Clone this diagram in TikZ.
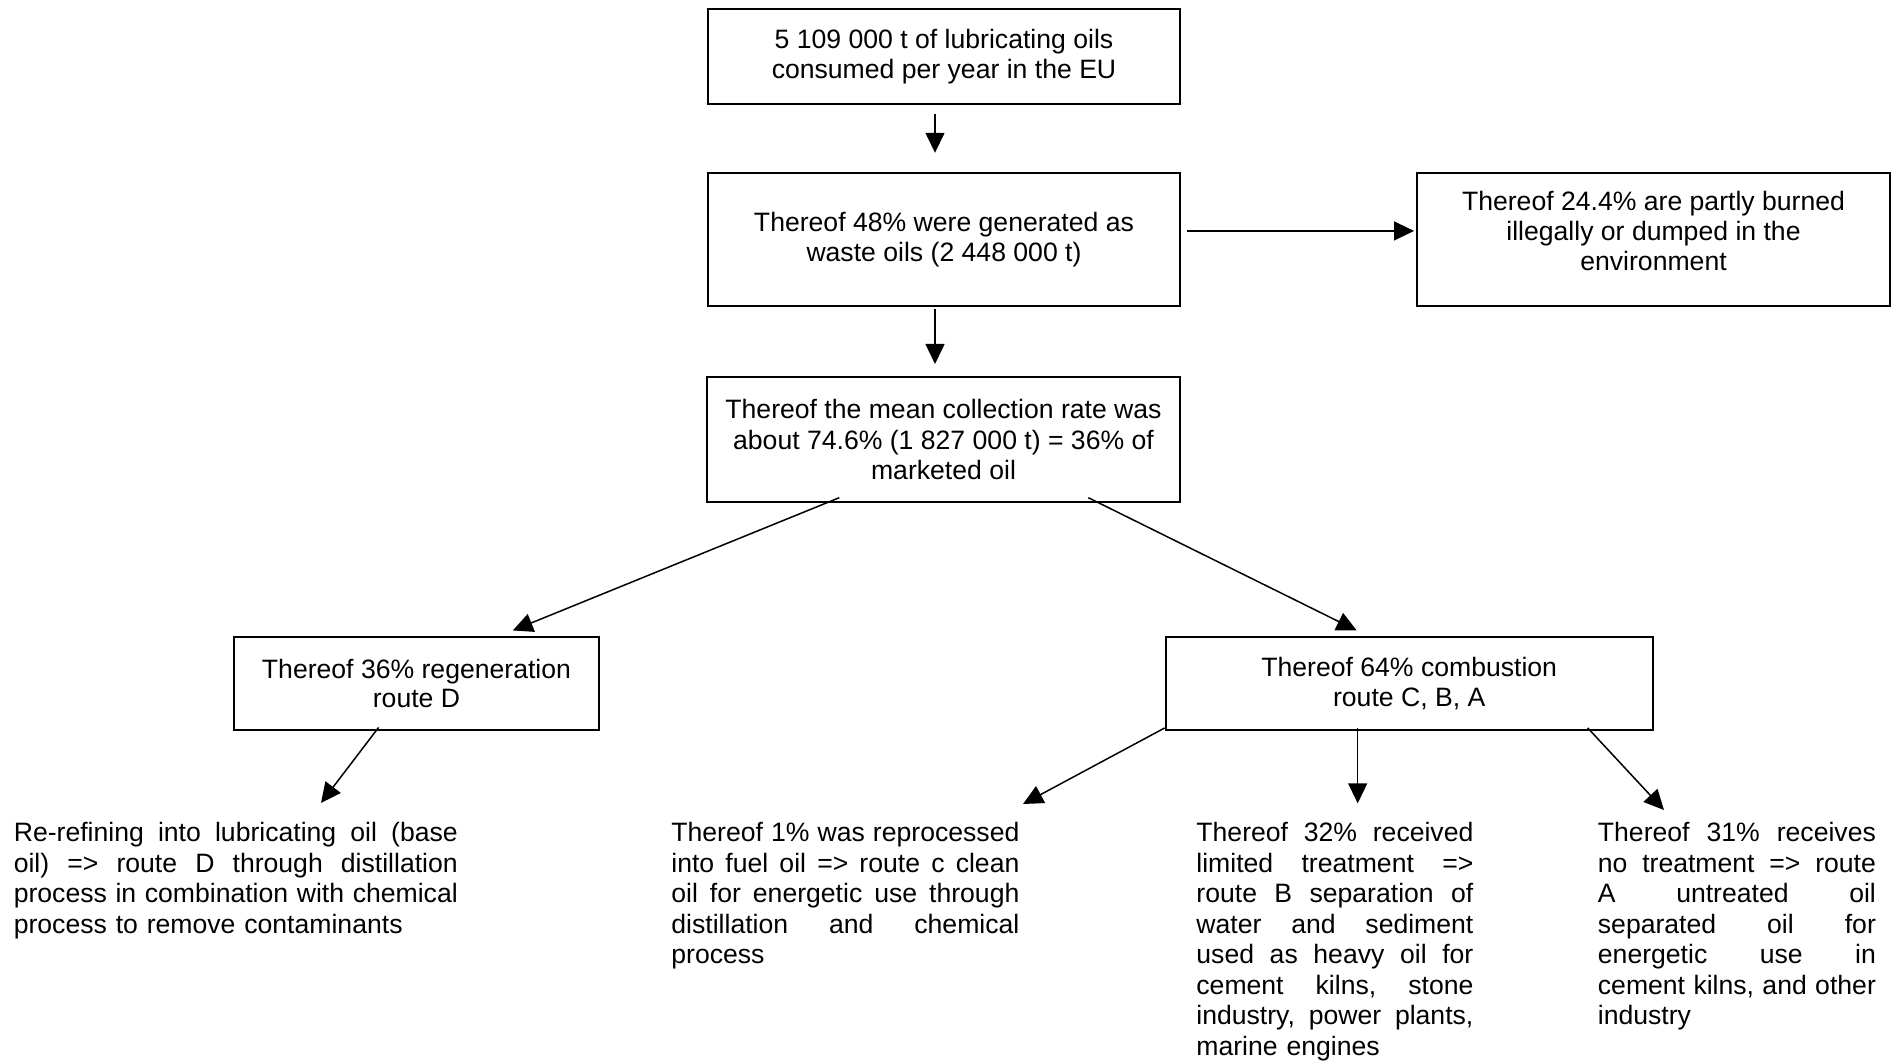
\documentclass[tikz,border=0pt]{standalone}
\usepackage{fontspec}
\setmainfont{Liberation Sans}
\usetikzlibrary{arrows.meta}
\frenchspacing
\setlength\parindent{0pt}
\newcommand\fs{\fontsize{13.3pt}{14.9pt}\selectfont}
\newcommand\fp{\fontsize{13.3pt}{15.25pt}\selectfont}
\newcommand\jl[1]{\noindent\hbox to\hsize{\spaceskip=0.278em plus 1fil minus 0.09em\relax #1}\par}
\newcommand\jlast[1]{\noindent\hbox{#1}\par}
\begin{document}
\begin{tikzpicture}[x=0.5pt,y=-0.5pt,
  box/.style={draw, line width=1pt, inner sep=0pt, align=center, font=\fs},
  para/.style={anchor=base west, inner sep=0pt, font=\fp},
  conn/.style={line width=0.75pt, -{Triangle[length=10pt,width=9.5pt]}}]
\useasboundingbox (0,0) rectangle (1894,1063);
\fill[white] (0,0) rectangle (1894,1063);

\node[box, minimum width=236pt, minimum height=47.5pt] (b1) at (944,56.5)
  {5 109 000 t of lubricating oils\\consumed per year in the EU};
\node[box, minimum width=236pt, minimum height=66.25pt] (b2) at (944,239.75)
  {Thereof 48\% were generated as\\waste oils (2 448 000 t)};
\node[box, minimum width=236.5pt, minimum height=66.25pt] (b3) at (1653.5,239.75)
  {Thereof 24.4\% are partly burned\\illegally or dumped in the\\environment\\[-6pt]\mbox{}};
\node[box, minimum width=236.5pt, minimum height=62.8pt, font=\fp] (b4) at (943.5,439.5)
  {Thereof the mean collection rate was\\about 74.6\% (1 827 000 t) = 36\% of\\marketed oil};
\node[box, minimum width=182.5pt, minimum height=46.75pt] (b5) at (416.5,683.5)
  {Thereof 36\% regeneration\\route D};
\node[box, minimum width=243.5pt, minimum height=46.75pt] (b6) at (1409.2,683.5)
  {Thereof 64\% combustion\\route C, B, A};

\node[para, text width=222pt] (t1) at (13.4,841.7) {%
  \jl{Re-refining into lubricating oil (base}%
  \jl{oil) => route D through distillation}%
  \jl{process in combination with chemical}%
  \jlast{process to remove contaminants}};
\node[para, text width=174pt] (t2) at (671,841.7) {%
  \jl{Thereof 1\% was reprocessed}%
  \jl{into fuel oil => route c clean}%
  \jl{oil for energetic use through}%
  \jl{distillation and chemical}%
  \jlast{process}};
\node[para, text width=138.5pt] (t3) at (1196,841.7) {%
  \jl{Thereof 32\% received}%
  \jl{limited treatment =>}%
  \jl{route B separation of}%
  \jl{water and sediment}%
  \jl{used as heavy oil for}%
  \jl{cement kilns, stone}%
  \jl{industry, power plants,}%
  \jlast{marine engines}};
\node[para, text width=139pt] (t4) at (1597.5,841.7) {%
  \jl{Thereof 31\% receives}%
  \jl{no treatment => route}%
  \jl{A untreated oil}%
  \jl{separated oil for}%
  \jl{energetic use in}%
  \jl{cement kilns, and other}%
  \jlast{industry}};

\coordinate (c1) at (321,803);
\coordinate (c2) at (1023,804);
\coordinate (c3) at (1357.7,803.3);
\coordinate (c4) at (1664,810);

\draw[conn] ([xshift=-4.5pt,yshift=-4.35pt]b1.south) -- ([xshift=-4.5pt,yshift=9.85pt]b2.north);
\draw[conn] ([xshift=-4.5pt,yshift=-1.15pt]b2.south) -- ([xshift=-4.25pt,yshift=5.85pt]b4.north);
\draw[conn] ([xshift=3pt,yshift=4.4pt]b2.east) -- ([xshift=-1pt,yshift=4.4pt]b3.west);
\draw[conn] ([xshift=-52.1pt,yshift=2.8pt]b4.south) -- ([xshift=48.15pt,yshift=2.65pt]b5.north);
\draw[conn] ([xshift=72.4pt,yshift=2.8pt]b4.south) -- ([xshift=-26.25pt,yshift=2.65pt]b6.north);
\draw[conn] ([xshift=-18.95pt,yshift=1.9pt]b5.south) -- (c1);
\draw[conn] ([yshift=1.65pt]b6.south west) -- (c2);
\draw[conn] ([xshift=-25.75pt,yshift=1.65pt]b6.south) -- (c3);
\draw[conn] ([xshift=89.25pt,yshift=1.65pt]b6.south) -- (c4);
\end{tikzpicture}
\end{document}
